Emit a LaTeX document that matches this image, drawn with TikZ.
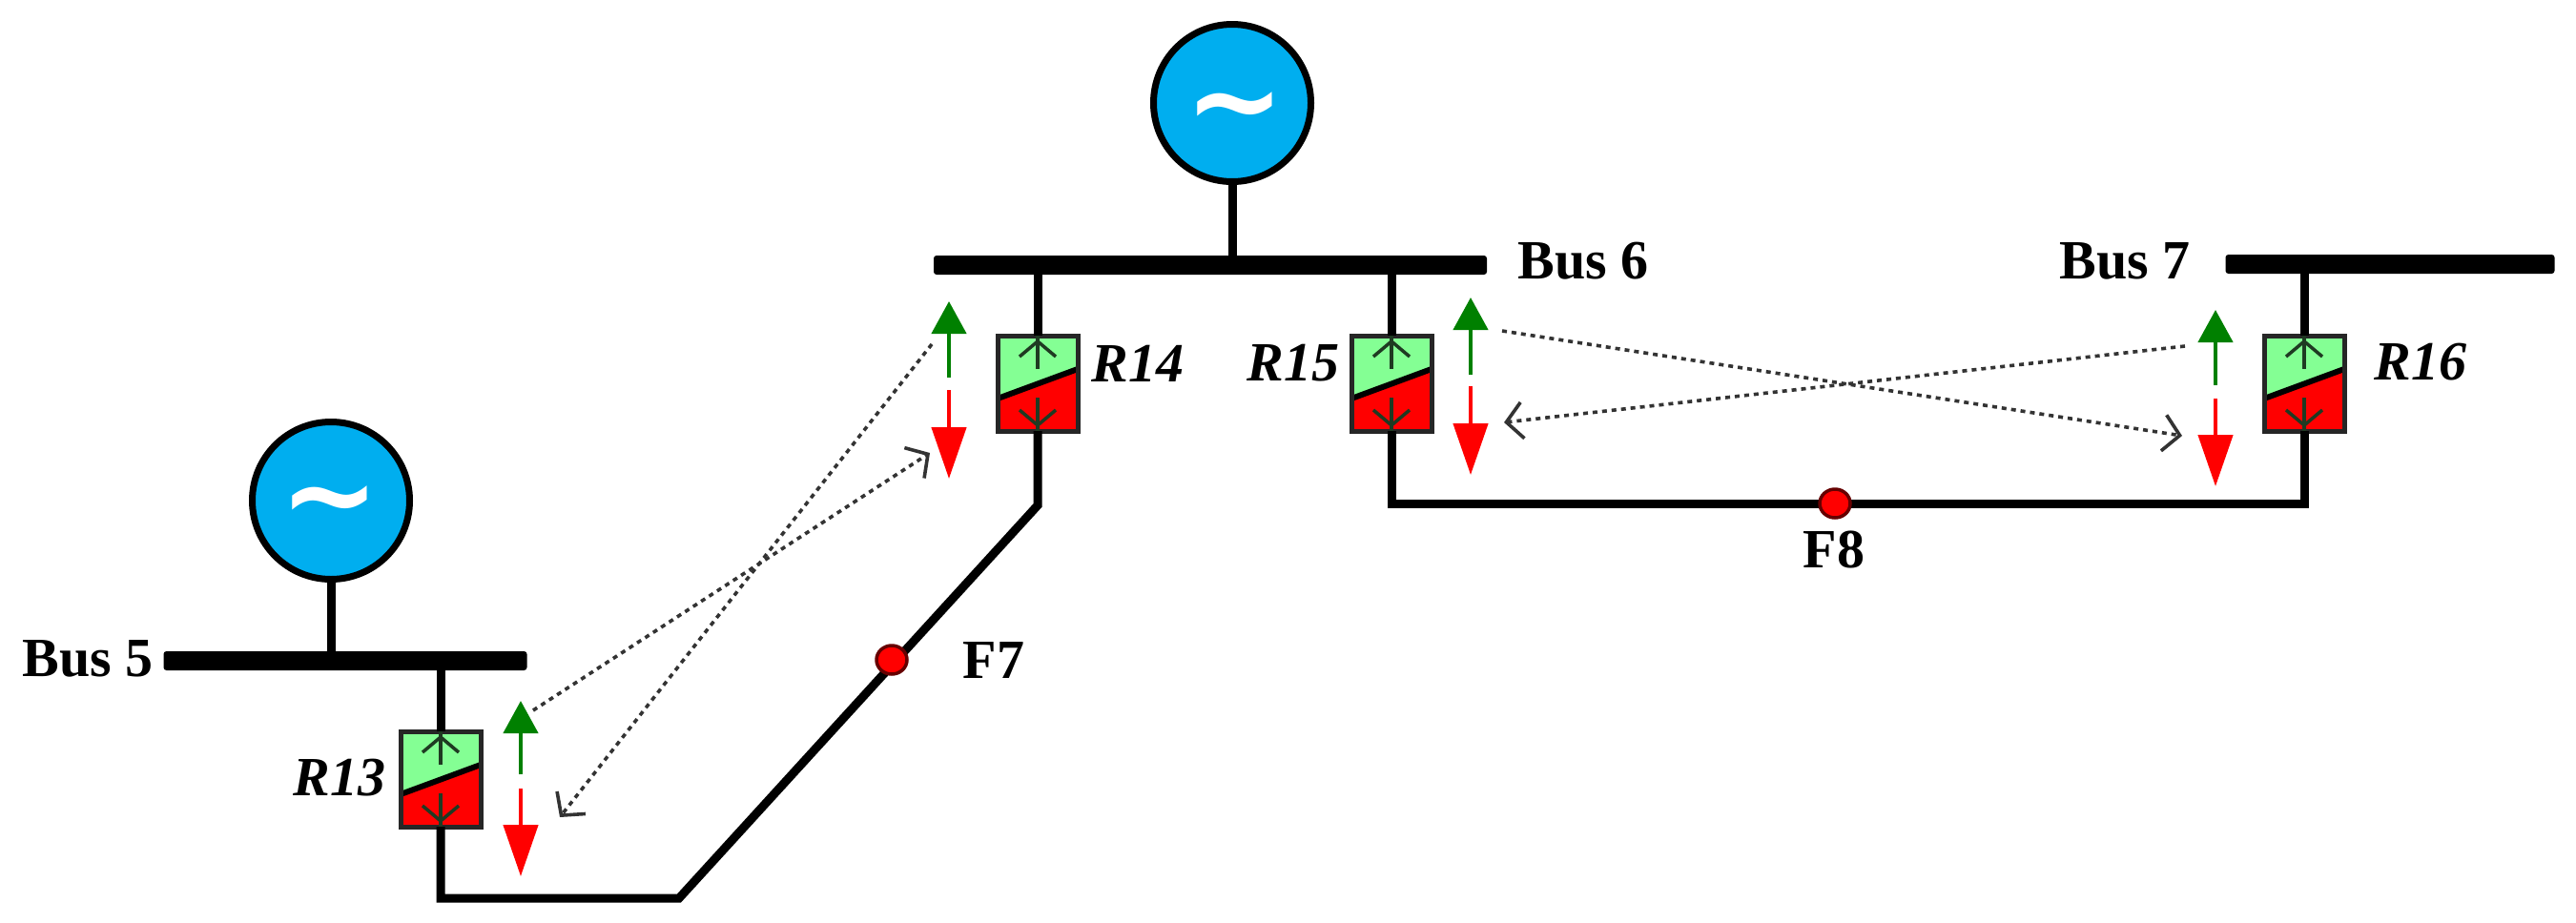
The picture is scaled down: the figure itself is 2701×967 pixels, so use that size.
\documentclass[tikz,border=0pt]{standalone}
\usepackage{fontspec}
\setmainfont{Liberation Serif}
\newfontfamily\tildefont{DejaVu Sans}
\usetikzlibrary{arrows.meta,shapes.geometric}
\definecolor{genblue}{HTML}{00AEEF}
\definecolor{relaygreen}{HTML}{84FF94}
\definecolor{relayred}{HTML}{FF0000}
\definecolor{flowgreen}{HTML}{008000}
\definecolor{innerdark}{HTML}{1F3A22}
\tikzset{
  x=1pt,y=-1pt,
  gen/.style={circle,draw=black,fill=genblue,line width=7pt,minimum size=165pt,inner sep=0pt,outer sep=0pt},
  gentilde/.style={font=\tildefont\bfseries\fontsize{125}{125}\selectfont,text=white,inner sep=0pt},
  bustxt/.style={font=\fontsize{58}{60}\selectfont\bfseries,inner sep=0pt},
  reltxt/.style={font=\fontsize{58}{60}\selectfont\bfseries\itshape,inner sep=0pt},
  busbar/.style={rectangle,fill=black,rounded corners=3pt,minimum height=20pt,inner sep=0pt,outer sep=0pt},
  wire/.style={line width=9pt,line join=miter,draw=black},
  relaybox/.style={rectangle,minimum width=84pt,minimum height=100pt,inner sep=0pt,outer sep=0pt,
    draw=black!85,line width=5pt,
    path picture={
      \fill[relaygreen] (path picture bounding box.south west) rectangle (path picture bounding box.north east);
      \fill[relayred] (path picture bounding box.south west) -- ([yshift=34pt]path picture bounding box.south west)
        -- ([yshift=-35pt]path picture bounding box.north east) -- (path picture bounding box.south east) -- cycle;
      \draw[black,line width=6pt] ([yshift=34pt]path picture bounding box.south west)
        -- ([yshift=-35pt]path picture bounding box.north east);
    }},
  innerarrow/.style={draw=innerdark,line width=3.5pt},
  upflow/.style={draw=flowgreen,line width=4.5pt,-{Triangle[length=34pt,width=36pt]}},
  downflow/.style={draw=relayred,line width=4.5pt,-{Triangle[length=54pt,width=36pt]}},
  comm/.style={draw=black!80,line width=3.6pt,dash pattern=on 5pt off 5pt,-{Straight Barb[length=17pt,width=38pt]}},
  fault/.style={ellipse,fill=relayred,draw=black!60!red,line width=3.5pt,minimum width=32pt,minimum height=30pt,inner sep=0pt},
}
% #1 relay name, #2 x, #3 y
\newcommand{\relayunit}[3]{%
  \node[relaybox] (#1) at (#2,#3) {};
  \draw[innerarrow] (#1.north) -- ++(0,35);
  \draw[innerarrow] ([shift={(-19pt,-22pt)}]#1.north) -- ([yshift=-6pt]#1.north) -- ([shift={(19pt,-22pt)}]#1.north);
  \draw[innerarrow] (#1.south) -- ++(0,-35);
  \draw[innerarrow] ([shift={(-19pt,22pt)}]#1.south) -- ([yshift=6pt]#1.south) -- ([shift={(19pt,22pt)}]#1.south);
}
% #1 name, #2 x, #3 green tip, #4 green tail, #5 red tail, #6 red tip
\newcommand{\flowpair}[6]{%
  \coordinate (#1gt) at (#2,#3); \coordinate (#1gb) at (#2,#4);
  \coordinate (#1rt) at (#2,#5); \coordinate (#1rb) at (#2,#6);
  \draw[upflow] (#1gb) -- (#1gt);
  \draw[downflow] (#1rt) -- (#1rb);
}
\begin{document}
\begin{tikzpicture}
\useasboundingbox (0,0) rectangle (2701,967);
% generators and buses
\node[gen] (g5) at (347,525) {};
\node[gen] (g6) at (1292,108) {};
\node[busbar,minimum width=381pt] (b5) at (362,693) {};
\node[busbar,minimum width=580pt] (b6) at (1269,278) {};
\node[busbar,minimum width=345pt] (b7) at (2506,277) {};
\node[gentilde] (t5) at (346,536) {∼};
\node[gentilde] (t6) at (1295,123) {∼};
\draw[wire] (g5.south) -- (g5.south |- b5.north);
\draw[wire] (g6.south) -- (g6.south |- b6.north);
% relays
\relayunit{r13}{462}{817}
\relayunit{r14}{1088}{402}
\relayunit{r15}{1459}{402}
\relayunit{r16}{2416}{402}
% lines
\coordinate (k13) at (462,942);
\coordinate (k13b) at (712,942);
\coordinate (k14) at (1088,530);
\coordinate (k15) at (1459,528);
\coordinate (k16) at (2416,528);
\draw[wire] (r13.north |- b5.south) -- (r13.north);
\draw[wire] (r14.north |- b6.south) -- (r14.north);
\draw[wire] (r15.north |- b6.south) -- (r15.north);
\draw[wire] (r16.north |- b7.south) -- (r16.north);
\draw[wire] (r13.south) -- (k13) -- (k13b) -- (k14) -- (r14.south);
\draw[wire] (r15.south) -- (k15) -- (k16) -- (r16.south);
\node[fault] (f7) at (935,692) {};
\node[fault] (f8) at (1924,528) {};
% flow arrows
\flowpair{a13}{546}{735}{812}{827}{919}
\flowpair{a14}{995}{316}{396}{409}{502}
\flowpair{a15}{1542}{312}{393}{405}{498}
\flowpair{a16}{2323}{325}{404}{418}{510}
% communication
\coordinate (c1s) at (977,361); \coordinate (c1e) at (587,857);
\coordinate (c2s) at (559,745); \coordinate (c2e) at (975,475);
\coordinate (c3s) at (1575,347); \coordinate (c3e) at (2288,457);
\coordinate (c4s) at (2291,363); \coordinate (c4e) at (1577,443);
\draw[comm] (c1s) -- (c1e);
\draw[comm] (c2s) -- (c2e);
\draw[comm] (c3s) -- (c3e);
\draw[comm] (c4s) -- (c4e);
% labels
\node[bustxt] (l5) at (92,691) {Bus 5};
\node[bustxt] (l6) at (1660,274) {Bus 6};
\node[bustxt] (l7) at (2228,274) {Bus 7};
\node[bustxt] (lf7) at (1042,692) {F7};
\node[bustxt] (lf8) at (1923,576) {F8};
\node[reltxt] (l13) at (356,816) {R13};
\node[reltxt] (l14) at (1193,381) {R14};
\node[reltxt] (l15) at (1356,381) {R15};
\node[reltxt] (l16) at (2538,380) {R16};
\end{tikzpicture}
\end{document}
